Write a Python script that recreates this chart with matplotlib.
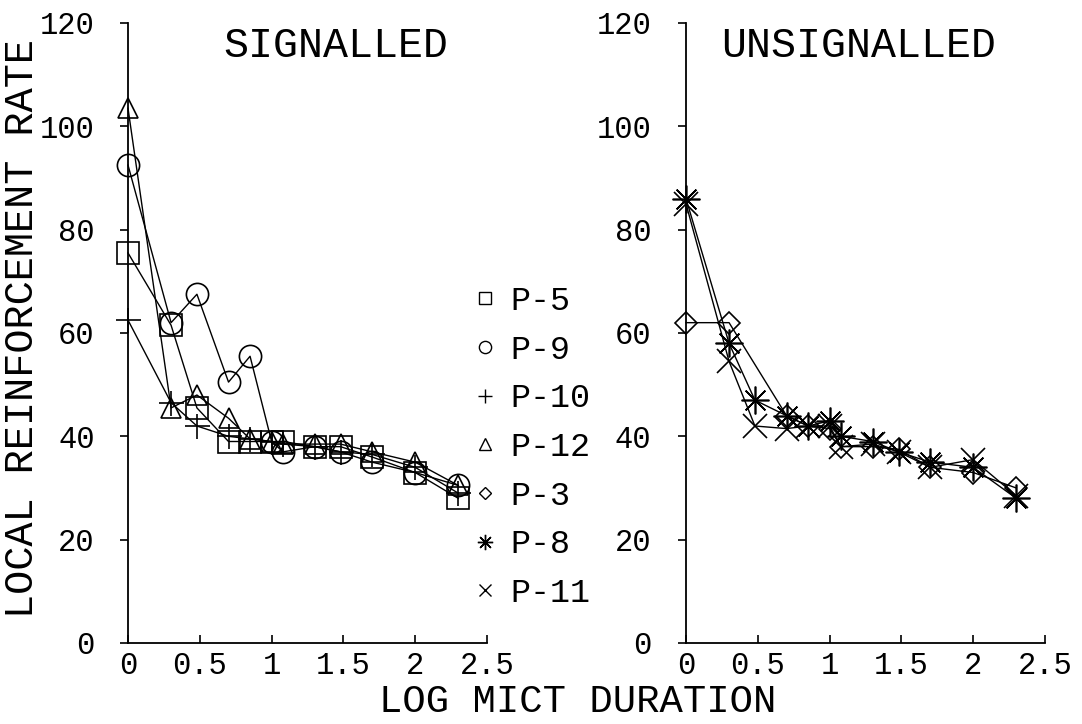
import matplotlib
matplotlib.use("Agg")
import matplotlib.pyplot as plt
from matplotlib.lines import Line2D

plt.rcParams['font.family'] = ['Liberation Mono', 'DejaVu Sans Mono']

# log MICT duration grid
x_all = [0, 0.30, 0.48, 0.70, 0.85, 1.00, 1.08, 1.30, 1.48, 1.70, 2.00, 2.30]

# signalled panel
p5 = [75.5, 61.5, 45.5, 39, 39, 39, 39, 38, 38, 36, 33, 28]
p9 = [92.5, 62, 67.5, 50.5, 55.5, 39, 37, 38, 37, 35, 33, 30.5]
p10 = [62.5, 46.5, 42, 40, 39.5, 39, 38.5, 38, 37, 36.5, 34, 29]
p12 = [103.5, 45.5, 48, 43.5, 39.5, 39, 38.5, 38.5, 38.5, 37, 35, 30.5]

# unsignalled panel
x_p3 = [0, 0.30, 0.70, 0.85, 1.00, 1.08, 1.30, 1.48, 1.70, 2.00, 2.30]
p3 = [62, 62, 44, 42, 41.5, 38, 38, 37.5, 34, 33, 30]
p8 = [86, 58, 47, 44, 42, 43, 40, 39, 37, 35, 34, 28]
p11 = [85, 54.5, 42, 41.5, 42, 42, 38, 38.5, 37, 34, 35.5, 28.5]

xticks = [0, 0.5, 1, 1.5, 2, 2.5]
xticklabels = ['0', '0.5', '1', '1.5', '2', '2.5']
yticks = [0, 20, 40, 60, 80, 100, 120]

star = (8, 2, 0)
styles = {
    'P-5': dict(marker='s', ms=16),
    'P-9': dict(marker='o', ms=16),
    'P-10': dict(marker='+', ms=18),
    'P-12': dict(marker='^', ms=15),
    'P-3': dict(marker='D', ms=11.5),
    'P-8': dict(marker=star, ms=20),
    'P-11': dict(marker='x', ms=17),
}

fig = plt.figure(figsize=(10.82, 7.24), dpi=100)
ax1 = fig.add_axes([128 / 1082, 1 - 643 / 724, 359 / 1082, 620 / 724])
ax2 = fig.add_axes([686 / 1082, 1 - 643 / 724, 359 / 1082, 620 / 724])


def draw(ax, x, y, name):
    st = styles[name]
    ax.plot(x, y, color='black', lw=1.0, marker=st['marker'], ms=st['ms'],
            mfc='none', mec='black', mew=1.2, clip_on=False, zorder=3)


draw(ax1, x_all, p5, 'P-5')
draw(ax1, x_all, p9, 'P-9')
draw(ax1, x_all, p10, 'P-10')
draw(ax1, x_all, p12, 'P-12')

draw(ax2, x_p3, p3, 'P-3')
draw(ax2, x_all, p8, 'P-8')
draw(ax2, x_all, p11, 'P-11')

for ax, pad in [(ax1, 18), (ax2, 19)]:
    ax.set_xlim(0, 2.5)
    ax.set_ylim(0, 120)
    ax.set_xticks(xticks)
    ax.set_xticklabels(xticklabels)
    ax.set_yticks(yticks)
    ax.spines['top'].set_visible(False)
    ax.spines['right'].set_visible(False)
    ax.spines['left'].set_linewidth(1.3)
    ax.spines['bottom'].set_linewidth(1.3)
    ax.tick_params(axis='x', direction='in', length=6, width=1.2,
                   labelsize=22, pad=6)
    ax.tick_params(axis='y', direction='out', length=6, width=1.2,
                   labelsize=22, pad=pad)
    ax.patch.set_visible(False)

ax1.text(1.45, 115.5, 'SIGNALLED', ha='center', va='center', fontsize=30)
ax2.text(1.2, 115.5, 'UNSIGNALLED', ha='center', va='center', fontsize=30)

fig.text(22 / 1082, 1 - 328 / 724, 'LOCAL REINFORCEMENT RATE', rotation=90,
         ha='center', va='center', fontsize=29)
fig.text(578 / 1082, 1 - 702 / 724, 'LOG MICT DURATION', ha='center',
         va='center', fontsize=28)

names = ['P-5', 'P-9', 'P-10', 'P-12', 'P-3', 'P-8', 'P-11']
handles = []
for n in names:
    st = styles[n]
    handles.append(Line2D([], [], ls='none', marker=st['marker'],
                          ms=st['ms'] * 0.55, mfc='none', mec='black',
                          mew=1.0))
fig.legend(handles, names, loc='upper left',
           bbox_to_anchor=(472 / 1082, 1 - 286 / 724), frameon=False,
           fontsize=24, handlelength=0.8, handletextpad=0.35,
           labelspacing=0.53, borderpad=0, borderaxespad=0)

fig.savefig('out.png', dpi=100)
